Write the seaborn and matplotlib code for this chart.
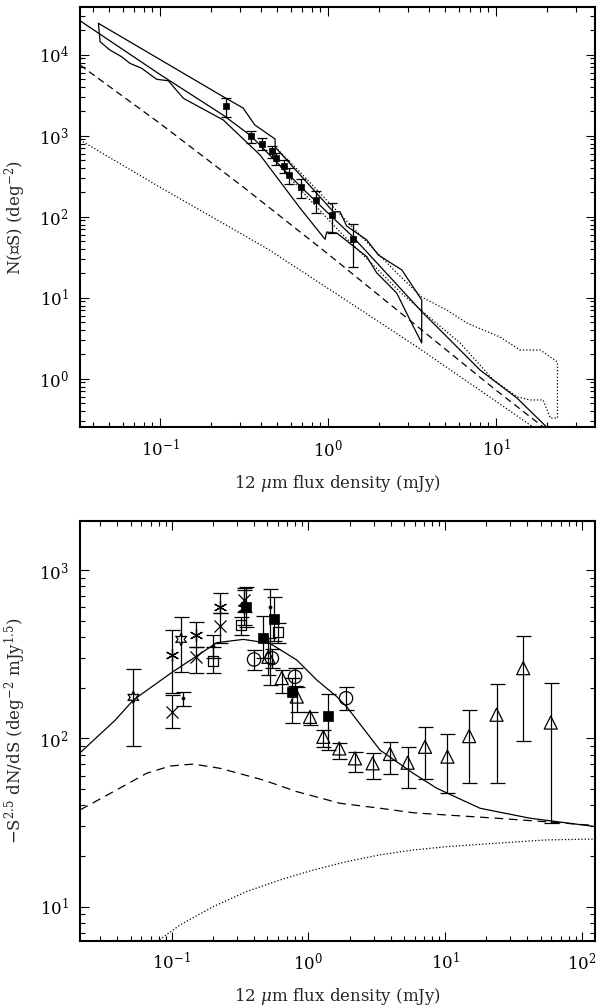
import numpy as np
import matplotlib
matplotlib.use("Agg")
import matplotlib.pyplot as plt
import seaborn as sns
from matplotlib.ticker import LogLocator, NullFormatter

sns.set_theme(style="ticks")
plt.rcParams["font.family"] = ["DejaVu Serif", "DejaVu Sans"]
plt.rcParams["mathtext.fontset"] = "dejavuserif"
plt.rcParams["font.size"] = 12

# ---------------- TOP PANEL DATA: cumulative counts N(>=S) ----------------
cum_S = [0.246, 0.347, 0.405, 0.466, 0.489, 0.550, 0.586, 0.686, 0.848, 1.061, 1.403]
cum_N = [2327, 1000, 790, 648, 531, 426, 324, 234, 160, 105, 52.6]
cum_lo = [1717, 820, 666, 535, 435, 343, 253, 169, 110, 63.3, 24.1]
cum_hi = [2945, 1153, 929, 753, 606, 501, 396, 290, 208, 146, 81.3]

# total model (solid)
mod_S = [0.0334, 0.10, 0.237, 0.347, 0.50, 0.681, 1.0, 1.39, 2.0, 3.63, 8.03, 13.3, 20.0, 24.0]
mod_N = [26300, 5700, 1802, 1000, 460, 239, 111, 57.8, 25.5, 6.66, 1.28, 0.578, 0.253, 0.195]

# model component (dashed)
dash_S = [0.0334, 0.10, 0.316, 1.0, 3.16, 10.0, 19.1, 22.0]
dash_N = [7460, 1416, 229, 34.6, 4.99, 0.72, 0.253, 0.20]

# model component (dotted)
dot_S = [0.0334, 0.10, 0.431, 0.68, 1.5, 3.37, 10.0, 16.6, 18.0]
dot_N = [885, 231, 40.7, 22.0, 7.5, 2.48, 0.525, 0.253, 0.21]

# solid envelope (closed outline)
env_S = [0.0430, 0.238, 0.312, 0.367, 0.484, 0.484, 1.075, 1.179, 1.29, 1.70, 1.99, 2.75, 3.61,
         3.61, 3.076, 2.564, 1.95, 1.70, 1.127, 0.982, 0.960, 0.681, 0.394, 0.238, 0.1377,
         0.112, 0.0955, 0.0778, 0.0662, 0.0591, 0.0503, 0.0440, 0.0430]
env_N = [24400, 3030, 2198, 1355, 910, 725, 115, 115, 76.8, 51.6, 33.7, 22.0, 9.37,
         2.76, 5.30, 11.4, 20.2, 32.1, 62.9, 64.7, 52.6, 128, 578, 1563, 2896,
         4775, 4970, 6795, 7830, 9440, 11430, 14460, 24400]

# dotted envelope (closed outline)
denv_S = [0.484, 0.681, 1.071, 1.55, 2.565, 3.61, 5.09, 6.69, 10.56, 13.9, 18.3, 23.2, 23.2,
          21.0, 19.05, 15.9, 13.3, 9.64, 6.11, 4.05, 2.68, 1.78, 1.179, 0.782, 0.594, 0.484, 0.484]
denv_N = [725, 356, 132, 59.4, 20.2, 10.2, 7.05, 4.87, 3.27, 2.26, 2.26, 1.61, 0.327,
          0.327, 0.546, 0.546, 0.600, 0.964, 2.76, 5.62, 11.8, 27.6, 64.7, 161, 300, 501, 725]

# ---------------- BOTTOM PANEL DATA: normalised differential counts ----------------
m_S = [0.0213, 0.0385, 0.0524, 0.10, 0.2135, 0.334, 0.524, 0.821, 1.15, 1.61, 1.905, 3.34, 5.85, 8.68, 18.0, 41.8, 125]
m_y = [82, 128, 169, 246, 370, 387, 366, 292, 222, 177, 154, 85.1, 61.9, 50.5, 38.4, 33.5, 29.9]

d_S = [0.0213, 0.0374, 0.0656, 0.0972, 0.144, 0.2255, 0.468, 0.821, 1.70, 3.34, 5.85, 10.3, 23.8, 55.3, 125]
d_y = [37.5, 48.2, 62.0, 68.4, 70.3, 66.3, 56.5, 48.2, 41.1, 38.4, 36.1, 35.0, 33.5, 31.9, 30.3]

o_S = [0.060, 0.0845, 0.115, 0.2015, 0.354, 0.620, 1.087, 1.905, 3.34, 5.85, 10.3, 23.8, 55.3, 125]
o_y = [5.2, 6.49, 7.78, 10.0, 12.3, 14.4, 16.5, 18.5, 20.3, 21.7, 22.7, 23.8, 24.9, 25.2]

star_S = [0.0523, 0.117]
star_y = [175, 387]
star_lo = [90.4, 249]
star_hi = [257, 524]

ast_S = [0.100, 0.1507, 0.2255, 0.335]
ast_y = [313, 411, 605, 594]
ast_lo = [185, 348, 553, 470]
ast_hi = [440, 493, 733, 760]

x_S = [0.100, 0.1507, 0.2255, 0.335]
x_y = [144, 303, 465, 664]
x_lo = [115, 243, 370, 560]
x_hi = [181, 348, 553, 780]

osq_S = [0.201, 0.3215, 0.6025]
osq_y = [288, 471, 430]
osq_lo = [245, 411, 370]
osq_hi = [350, 528, 482]

fsq_S = [0.350, 0.468, 0.563, 0.755, 1.398]
fsq_y = [605, 396, 509, 189, 136]
fsq_lo = [460, 300, 380, 123, 85]
fsq_hi = [795, 530, 689, 228, 183]

circ_S = [0.400, 0.540, 0.798, 1.884]
circ_y = [294, 299, 232, 173]
circ_lo = [255, 262, 205, 147]
circ_hi = [335, 340, 262, 201]

tri_S = [0.509, 0.638, 0.821, 1.027, 1.285, 1.683, 2.19, 2.95, 3.95, 5.32, 7.13, 10.4, 15.0, 23.8, 37.3, 59.3]
tri_y = [305, 228, 177, 134, 102, 87, 76, 71, 80.7, 71.6, 89, 77.8, 103, 138, 261, 124]
tri_lo = [238, 187, 144, 120, 89, 75, 63, 57, 61.4, 50.5, 57.5, 47.5, 54.5, 54.5, 96.4, 31.3]
tri_hi = [393, 255, 203, 144, 112, 94, 83, 82, 94.6, 89, 116, 106, 147, 209, 405, 212]

dotp_S = [0.1216, 0.201, 0.524]
dotp_y = [174, 353, 605]
dotp_lo = [156, 300, 207]
dotp_hi = [189, 411, 768]

# ---------------- FIGURE ----------------
W, H = 598, 1006
fig = plt.figure(figsize=(W / 100, H / 100), dpi=100)
ax1 = fig.add_axes([80 / W, 1 - 427.3 / H, 515 / W, 420.6 / H])
ax2 = fig.add_axes([80 / W, 1 - 940.7 / H, 515 / W, 419.7 / H])

LW = 0.9


def line(ax, x, y, ls="-", lw=LW):
    sns.lineplot(x=x, y=y, ax=ax, sort=False, estimator=None, errorbar=None,
                 color="black", linewidth=lw, linestyle=ls, legend=False)


def errs(ax, x, y, lo, hi, cap):
    y = np.asarray(y, float)
    yerr = [y - np.asarray(lo, float), np.asarray(hi, float) - y]
    ax.errorbar(x, y, yerr=yerr, fmt="none", ecolor="black", elinewidth=LW,
                capsize=cap, capthick=LW, zorder=3)


def marks(ax, x, y, marker, s, kind="open"):
    if kind == "filled":
        sns.scatterplot(x=x, y=y, ax=ax, marker=marker, s=s, color="black",
                        edgecolor="black", linewidth=0.5, zorder=4, legend=False)
    elif kind == "lineart":
        sns.scatterplot(x=x, y=y, ax=ax, marker=marker, s=s, color="black",
                        linewidth=LW, zorder=4, legend=False)
    else:
        sns.scatterplot(x=x, y=y, ax=ax, marker=marker, s=s, color="none",
                        edgecolor="black", linewidth=LW, zorder=4, legend=False)


for ax in (ax1, ax2):
    ax.set_xscale("log")
    ax.set_yscale("log")

# top panel
line(ax1, env_S, env_N, "-")
line(ax1, denv_S, denv_N, ":")
line(ax1, mod_S, mod_N, "-")
line(ax1, dash_S, dash_N, (0, (5.5, 3.5)))
line(ax1, dot_S, dot_N, ":")
errs(ax1, cum_S, cum_N, cum_lo, cum_hi, 3.6)
marks(ax1, cum_S, cum_N, "s", 22, kind="filled")

ax1.set_xlim(0.0334, 38.8)
ax1.set_ylim(0.251, 39170)
ax1.set_xlabel(r"12 $\mu$m flux density (mJy)", labelpad=9)
ax1.set_ylabel("N(\u2267S) (deg$^{-2}$)", labelpad=8)

# bottom panel
line(ax2, m_S, m_y, "-")
line(ax2, d_S, d_y, (0, (7, 4.5)))
line(ax2, o_S, o_y, ":")
for (xs, ys, lo, hi) in [(star_S, star_y, star_lo, star_hi), (ast_S, ast_y, ast_lo, ast_hi),
                         (x_S, x_y, x_lo, x_hi), (osq_S, osq_y, osq_lo, osq_hi),
                         (fsq_S, fsq_y, fsq_lo, fsq_hi), (circ_S, circ_y, circ_lo, circ_hi),
                         (tri_S, tri_y, tri_lo, tri_hi), (dotp_S, dotp_y, dotp_lo, dotp_hi)]:
    errs(ax2, xs, ys, lo, hi, 5.4)
marks(ax2, star_S, star_y, (6, 1, 0), 80)
marks(ax2, ast_S, ast_y, (6, 2, 0), 80, kind="lineart")
marks(ax2, x_S, x_y, "x", 75, kind="lineart")
marks(ax2, osq_S, osq_y, "s", 52)
marks(ax2, fsq_S, fsq_y, "s", 44, kind="filled")
marks(ax2, circ_S, circ_y, "o", 92)
marks(ax2, tri_S, tri_y, "^", 88)
marks(ax2, dotp_S, dotp_y, "o", 5, kind="filled")

ax2.set_xlim(0.0213, 125)
ax2.set_ylim(6.27, 1955)
ax2.set_xlabel(r"12 $\mu$m flux density (mJy)", labelpad=9)
ax2.set_ylabel(r"$-$S$^{2.5}$ dN/dS (deg$^{-2}$ mJy$^{1.5}$)", labelpad=8)

for ax in (ax1, ax2):
    for sp in ax.spines.values():
        sp.set_visible(True)
        sp.set_linewidth(1.5)
        sp.set_color("black")
    for axis in (ax.xaxis, ax.yaxis):
        axis.set_major_locator(LogLocator(base=10, numticks=20))
        axis.set_minor_locator(LogLocator(base=10, subs=np.arange(2, 10), numticks=20))
        axis.set_minor_formatter(NullFormatter())
    ax.tick_params(which="both", direction="in", top=True, right=True, colors="black",
                   labelsize=12, pad=8)
    ax.tick_params(which="major", length=6.5, width=0.8)
    ax.tick_params(which="minor", length=3.6, width=0.8)
    ax.xaxis.label.set_size(12)
    ax.yaxis.label.set_size(12)
    ax.set_facecolor("white")

fig.savefig("out.png", dpi=100, facecolor="white")
